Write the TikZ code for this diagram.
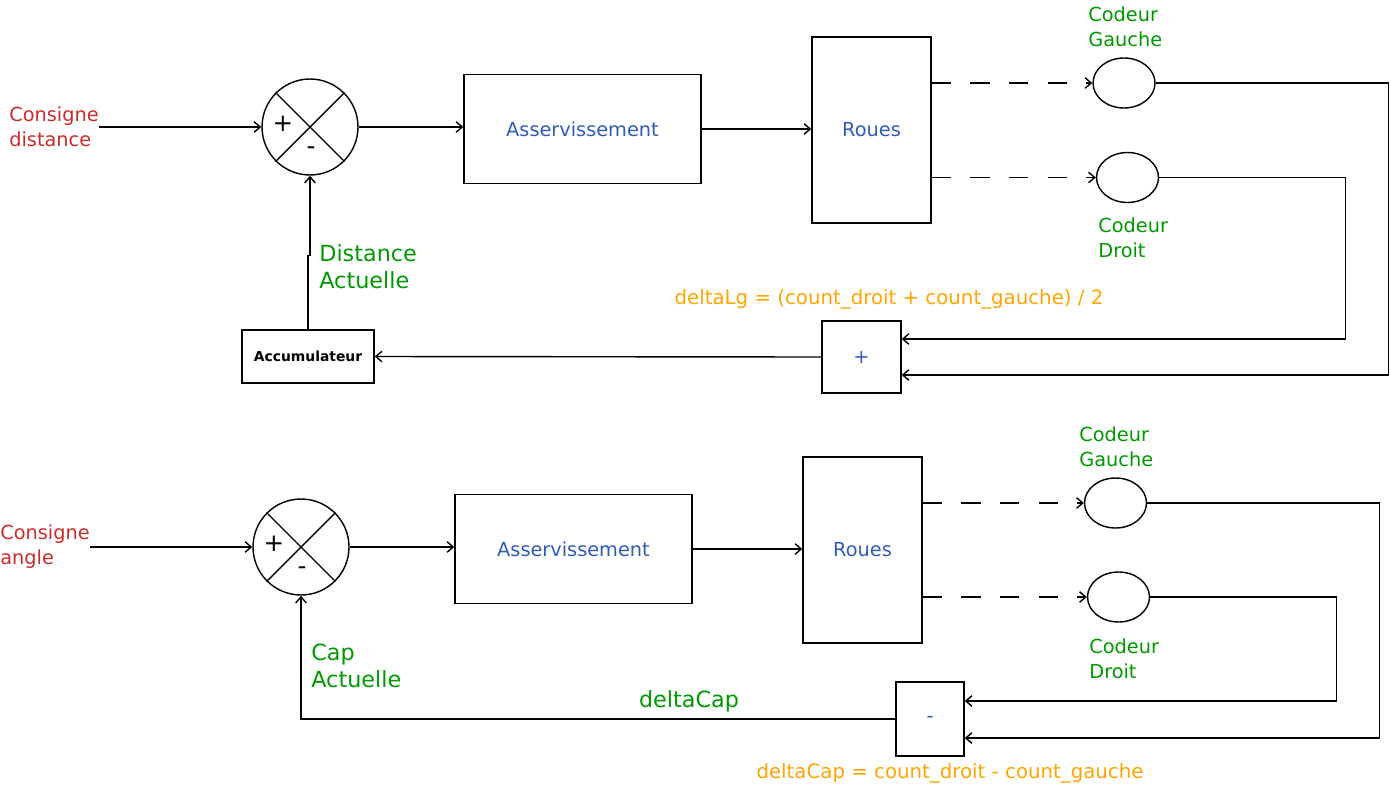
\documentclass[tikz,border=0pt]{standalone}
\usepackage{fontspec}
\setmainfont{DejaVu Sans}
\usetikzlibrary{shapes.geometric,arrows.meta,calc}
\definecolor{consred}{HTML}{CC2B2B}
\definecolor{blocblue}{HTML}{2F5BB7}
\definecolor{codgreen}{HTML}{009900}
\definecolor{formorange}{HTML}{FFA500}
\newcommand{\txtn}{\fontsize{11}{14.2}\selectfont}
\newcommand{\txtb}{\fontsize{12.7}{15.4}\selectfont}
\tikzset{
  bloc/.style={draw, line width=0.8pt, inner sep=0pt, text=blocblue, font=\txtn},
  sumcircle/.style={draw, circle, line width=0.8pt, minimum size=1.92cm, inner sep=0pt},
  codeur/.style={draw, ellipse, line width=0.8pt, minimum width=1.24cm, minimum height=1cm, inner sep=0pt},
  consigne/.style={anchor=west, align=left, inner sep=0pt, text=consred, font=\txtn},
  codtext/.style={anchor=west, align=left, inner sep=0pt, text=codgreen, font=\txtn},
  mesure/.style={anchor=west, align=left, inner sep=0pt, text=codgreen, font=\txtb},
  formule/.style={inner sep=0pt, text=formorange, font=\fontsize{11.25}{14}\selectfont},
  fil/.style={line width=0.8pt},
  filfl/.style={line width=0.8pt, -{Straight Barb[length=3.5pt,width=6pt]}},
  signe/.style={inner sep=0pt, font=\fontsize{14}{16}\selectfont}
}
\begin{document}
\begin{tikzpicture}[x=0.02cm, y=-0.02cm]
  \useasboundingbox (0,0) rectangle (1391,784);

  % Boucle de distance
  \node[consigne] (cd) at (9,127) {Consigne\\distance};
  \node[sumcircle] (s1) at (310,127) {};
  \draw[fil] (s1.north west) -- (s1.south east);
  \draw[fil] (s1.north east) -- (s1.south west);
  \node[signe] (s1p) at (283,124) {+};
  \node[signe] (s1m) at (311,151) {-};
  \node[bloc, minimum width=4.74cm, minimum height=2.18cm] (a1) at (582.5,129) {Asservissement};
  \node[bloc, minimum width=2.38cm, minimum height=3.72cm] (r1) at (871.5,130) {Roues};
  \node[codeur] (g1) at (1124,83) {};
  \node[codeur] (d1) at (1127.5,177.5) {};
  \node[codtext] (tg1) at (1088,27) {Codeur\\Gauche};
  \node[codtext] (td1) at (1098,238) {Codeur\\Droit};
  \node[bloc, minimum width=1.58cm, minimum height=1.44cm] (p1) at (861.5,357) {+};
  \node[draw, line width=0.8pt, minimum width=2.64cm, minimum height=1.06cm, inner sep=0pt,
        font=\fontsize{7.9}{9}\selectfont\bfseries] (acc) at (308,356.5) {Accumulateur};
  \node[mesure] (dist) at (319,267) {Distance\\Actuelle};
  \node[formule] (flg) at (889,299) {deltaLg = (count\_droit + count\_gauche) / 2};

  \draw[filfl] (cd.east) -- (s1.west);
  \draw[filfl] (s1.east) -- (a1.west |- s1.east);
  \draw[filfl] (a1.east) -- (r1.west |- a1.east);
  \draw[filfl, dash pattern=on 11pt off 11pt] (r1.east |- g1.west) -- (g1.west);
  \draw[filfl, dash pattern=on 11pt off 11pt] (r1.east |- d1.west) -- (d1.west);
  \draw[filfl] (g1.east) -| ($(p1.east)+(487,18)$) -- ($(p1.east)+(0,18)$);
  \draw[filfl] (d1.east) -| ($(p1.east)+(444,-18)$) -- ($(p1.east)+(0,-18)$);
  \draw[filfl] (p1.west) -- (acc.east);
  \draw[filfl] (acc.north) -- ++(0,-74) -| (s1.south);

  % Boucle d'angle
  \node[consigne] (ca) at (0,547) {Consigne\\angle};
  \node[sumcircle] (s2) at (301,547) {};
  \draw[fil] (s2.north west) -- (s2.south east);
  \draw[fil] (s2.north east) -- (s2.south west);
  \node[signe] (s2p) at (274,544) {+};
  \node[signe] (s2m) at (302,571) {-};
  \node[bloc, minimum width=4.74cm, minimum height=2.18cm] (a2) at (573.5,549) {Asservissement};
  \node[bloc, minimum width=2.38cm, minimum height=3.72cm] (r2) at (862.5,550) {Roues};
  \node[codeur] (g2) at (1115.5,503) {};
  \node[codeur] (d2) at (1118.5,597) {};
  \node[codtext] (tg2) at (1079,446.5) {Codeur\\Gauche};
  \node[codtext] (td2) at (1089,658.5) {Codeur\\Droit};
  \node[bloc, minimum width=1.36cm, minimum height=1.48cm] (m2) at (930,719) {-};
  \node[mesure] (cap) at (311,666) {Cap\\Actuelle};
  \node[text=codgreen, font=\txtb, inner sep=0pt] (dc) at (689,701) {deltaCap};
  \node[formule] (fdc) at (950,773) {deltaCap = count\_droit - count\_gauche};

  \draw[filfl] (ca.east) -- (s2.west);
  \draw[filfl] (s2.east) -- (a2.west |- s2.east);
  \draw[filfl] (a2.east) -- (r2.west |- a2.east);
  \draw[filfl, dash pattern=on 11pt off 11pt] (r2.east |- g2.west) -- (g2.west);
  \draw[filfl, dash pattern=on 11pt off 11pt] (r2.east |- d2.west) -- (d2.west);
  \draw[filfl] (g2.east) -| ($(m2.east)+(415,19)$) -- ($(m2.east)+(0,19)$);
  \draw[filfl] (d2.east) -| ($(m2.east)+(372,-18)$) -- ($(m2.east)+(0,-18)$);
  \draw[filfl] (m2.west) -| (s2.south);
\end{tikzpicture}
\end{document}
